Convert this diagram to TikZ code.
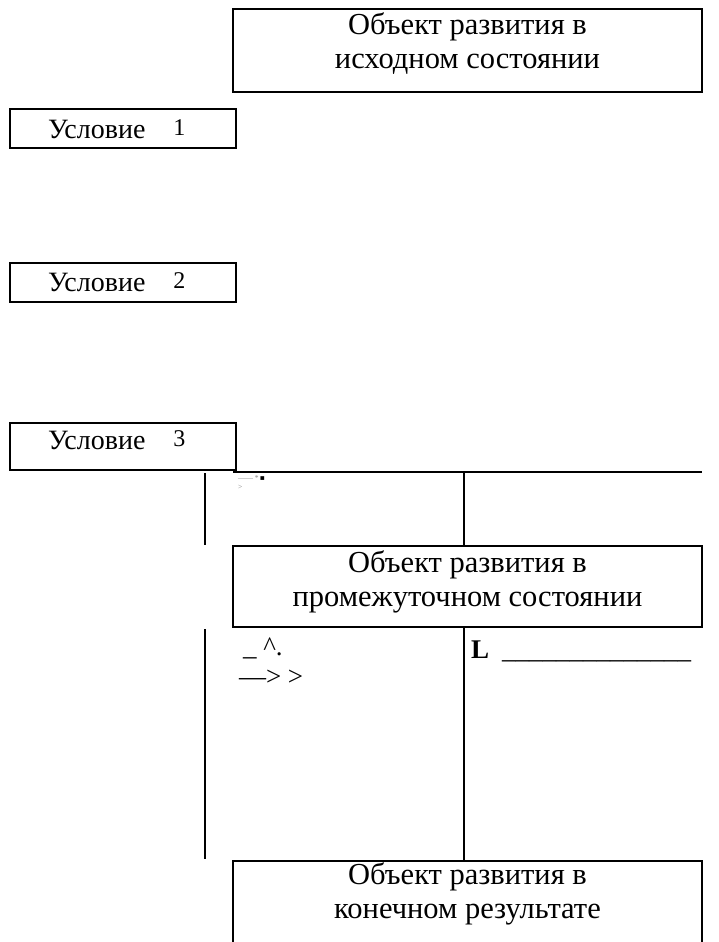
\documentclass[tikz,border=0pt]{standalone}
\usepackage{fontspec}
\setmainfont{Liberation Serif}
\newfontfamily\symfont{DejaVu Sans}
\begin{document}
\begin{tikzpicture}[x=1pt,y=-1pt,line width=2pt,
  frame/.style={draw,line width=2pt,inner sep=0pt},
  bigbox/.style={frame,minimum width=469pt},
  condbox/.style={frame,minimum width=226pt},
  boxline/.style={font=\fontsize{30.5}{34}\selectfont,inner sep=0pt,anchor=base},
  condtext/.style={font=\fontsize{28}{32}\selectfont,inner sep=0pt,anchor=base west},
  note/.style={font=\fontsize{27}{32}\selectfont,inner sep=0pt,anchor=base west},
  speck/.style={font=\fontsize{7.5}{7.5}\selectfont,inner sep=0pt,anchor=base west,text=gray}]
\useasboundingbox (0,0) rectangle (718,942);
\clip (0,0) rectangle (718,942);

% object states
\node[bigbox,minimum height=83pt] (init) at (467.5,50.5) {};
\node[boxline] (initA) at (467.5,35) {Объект развития в};
\node[boxline] (initB) at (467.5,69) {исходном состоянии};

\node[bigbox,minimum height=81pt] (mid) at (467.5,586.5) {};
\node[boxline] (midA) at (467.5,572) {Объект развития в};
\node[boxline] (midB) at (467.5,606) {промежуточном состоянии};

\node[bigbox,minimum height=99pt] (final) at (467.5,910.5) {};
\node[boxline] (finA) at (467.5,884) {Объект развития в};
\node[boxline] (finB) at (467.5,918) {конечном результате};

% conditions
\newcommand{\condnum}[1]{\raisebox{3pt}{\fontsize{24}{24}\selectfont #1}}
\node[condbox,minimum height=39pt] (c1) at (123,128.5) {};
\node[condtext] (c1t) at (47,138) {Условие\hspace{28pt}\condnum{1}};
\node[condbox,minimum height=39pt] (c2) at (123,282.5) {};
\node[condtext] (c2t) at (47,291) {Условие\hspace{28pt}\condnum{2}};
\node[condbox,minimum height=47pt] (c3) at (123,446.5) {};
\node[condtext] (c3t) at (47,449) {Условие\hspace{28pt}\condnum{3}};

% frame lines
\coordinate (hl) at (233,472);
\coordinate (hr) at (702,472);
\coordinate (mx) at (464,472);
\draw (hl) -- (hr);
\draw (mx) -- (mid.north -| mx);
\draw (mid.south -| mx) -- (final.north -| mx);
\coordinate (la) at (205,473);
\coordinate (lb) at (205,545);
\coordinate (lc) at (205,629);
\coordinate (ld) at (205,859);
\draw (la) -- (lb);
\draw (lc) -- (ld);

% marks
\node[speck] (s1) at (237,480) {—— *\,{\symfont\textcolor{black}{▪}}};
\node[speck] (s2) at (237,489) {>};
\node[note] (m1) at (242,655) {\_ \textasciicircum.};
\node[note] (m2) at (238,685) {—> >};
\node[note] (m3) at (470,658) {\textbf{L}\hspace{13pt}\_\_\_\_\_\_\_\_\_\_\_\_\_\_};
\end{tikzpicture}
\end{document}
